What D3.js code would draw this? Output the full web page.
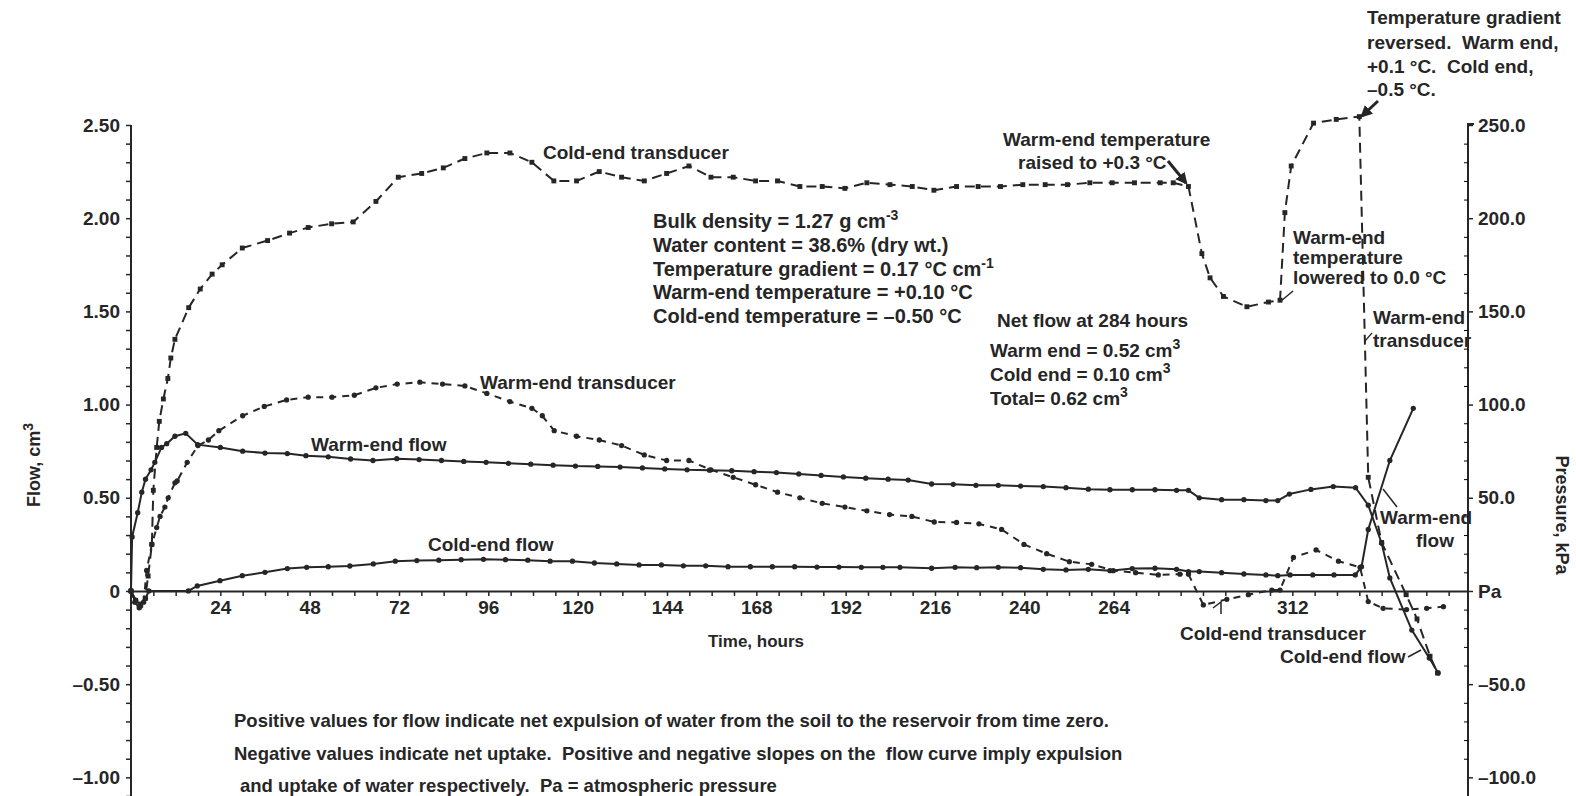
<!DOCTYPE html>
<html>
<head>
<meta charset="utf-8">
<script src="https://cdn.jsdelivr.net/npm/d3@7"></script>
<style>
  html, body { margin: 0; padding: 0; background: #fff; }
  svg { display: block; }
  text { font-family: "Liberation Sans", Arial, sans-serif; font-weight: bold; fill: #262626; white-space: pre; }
</style>
</head>
<body>
<div id="chart"></div>
<script>
// ---- data (hours, value) ----
// cold-end transducer, kPa (right axis)
const coldTransducerHours = [0, 1.2, 2.5, 3.8, 4.6, 5.6, 6.0, 6.9, 7.6, 8.7, 9.9, 10.7, 11.8, 15.5, 18.6, 21.8, 24.5, 29.9, 36.7, 42.6, 47.6, 53.9, 59.7, 65.8, 71.8, 78.1, 83.9, 89.7, 95.6, 101.8, 107.7, 113.6, 119.7, 125.8, 131.8, 137.9, 143.9, 149.9, 155.8, 161.8, 167.8, 173.7, 179.7, 185.7, 191.8, 197.7, 203.9, 209.9, 215.7, 221.8, 227.6, 233.6, 239.6, 245.6, 251.6, 257.6, 263.6, 269.6, 276.5, 280.0, 284.1, 287.7, 289.9, 293.5, 299.8, 305.6, 308.7, 310.0, 311.7, 317.7, 323.8, 330.0, 332.4, 336.0, 342.6, 345.5, 349.0, 351.0];
const coldTransducerKPa = [0, -5, -7, -4, 8, 25, 54, 77, 91, 103, 114, 125, 135, 152, 162, 170, 175, 184, 188, 192, 195, 197, 198, 209, 222, 224, 227, 232, 235, 235, 230, 220, 220, 225, 222, 220, 224, 228, 222, 222, 220, 220, 217, 217, 216, 219, 218, 217, 215, 217, 217, 217, 218, 218, 218, 219, 219, 219, 219, 219, 217, 181, 168, 158, 152.5, 155, 156, 203, 228, 251, 253, 254.5, 61, 26, -2, -15, -35, -44];

// warm-end transducer, kPa (right axis)
const warmTransducerHours = [0, 1.0, 2.2, 3.4, 4.2, 5.6, 6.9, 7.8, 9.1, 10.0, 11.8, 12.4, 15.1, 18.0, 20.8, 23.6, 30.0, 35.8, 41.8, 47.6, 54.0, 60.0, 65.8, 71.5, 77.6, 83.7, 89.7, 95.6, 101.8, 107.7, 110.5, 113.7, 119.7, 125.8, 131.8, 137.9, 143.9, 149.9, 155.8, 161.8, 167.8, 173.7, 179.7, 185.7, 191.8, 197.7, 203.8, 209.8, 215.8, 221.8, 227.8, 233.9, 239.9, 246.0, 252.1, 258.1, 263.9, 269.9, 276.0, 281.8, 284.1, 288.1, 294.4, 300.2, 306.5, 308.7, 312.3, 318.4, 324.4, 330.2, 332.4, 336.4, 342.7, 348.1, 352.6];
const warmTransducerKPa = [0, -6, -9, -6, 11, 25, 34, 40, 45, 50, 58, 59, 69, 78, 81, 86, 94, 99, 102.5, 104, 104, 105, 109, 111, 112, 111, 110, 106, 101.6, 98, 94, 86, 83, 81, 78, 73, 70, 70, 65, 61, 57, 53, 50, 47, 45, 43, 41, 40, 37, 36.8, 36, 33, 25, 20, 15.7, 14.3, 10.9, 9.8, 8.6, 9, 9, -7.5, -4.5, -2, 0.5, 0.5, 18, 22, 16, 12.7, -5.7, -9.3, -10, -9.3, -8.4];

// warm-end flow, cm3 (left axis)
const warmFlowHours = [0, 0.3, 1.8, 2.9, 3.9, 5.4, 6.4, 8.2, 9.6, 11.8, 14.7, 17.9, 24, 30, 36, 42, 47, 53, 59, 65, 71.4, 77.4, 83.4, 89.4, 95.4, 101.4, 107.4, 113.4, 119.4, 125.4, 131.4, 137.4, 143.4, 149.4, 155.4, 161.4, 167.4, 173.4, 179.4, 185.4, 191.4, 197.4, 203.4, 208.8, 215.1, 220.9, 227.0, 233.0, 239.0, 245.1, 251.2, 257.2, 263.0, 269.0, 275.1, 280.9, 284.1, 287.0, 293.0, 299.0, 304.9, 308.1, 311.2, 317.0, 323.0, 329.0, 332.4, 336.0, 338.2, 344.1, 348.8, 351.2];
const warmFlowCm3 = [0, 0.29, 0.42, 0.53, 0.60, 0.65, 0.69, 0.77, 0.79, 0.83, 0.846, 0.785, 0.77, 0.75, 0.74, 0.737, 0.726, 0.72, 0.708, 0.70, 0.71, 0.705, 0.70, 0.695, 0.69, 0.685, 0.68, 0.675, 0.67, 0.668, 0.665, 0.66, 0.655, 0.65, 0.648, 0.645, 0.64, 0.635, 0.628, 0.62, 0.612, 0.605, 0.60, 0.595, 0.574, 0.572, 0.567, 0.567, 0.563, 0.56, 0.554, 0.546, 0.543, 0.543, 0.543, 0.54, 0.54, 0.50, 0.49, 0.49, 0.485, 0.485, 0.52, 0.545, 0.56, 0.554, 0.46, 0.256, 0.07, -0.21, -0.36, -0.44];

// cold-end flow, cm3 (left axis)
const coldFlowHours = [0, 1.3, 2.6, 3.9, 4.8, 15.4, 17.8, 23.9, 29.9, 36, 42, 47.2, 53, 58.8, 65.1, 71, 76.8, 82.7, 88.7, 94.7, 100.6, 106.6, 112.6, 118.6, 124.5, 130.5, 136.5, 142.5, 148.4, 154.4, 160.4, 166.4, 172.3, 178.3, 184.3, 190.2, 196.2, 202.0, 206.6, 215.1, 221.4, 227.2, 233.0, 239.0, 245.1, 251.2, 257.2, 263.0, 269.0, 275.1, 280.9, 284.1, 287.0, 293.0, 299.0, 304.9, 308.1, 311.4, 317.5, 323.2, 328.9, 330.6, 332.4, 338.2, 344.5];
const coldFlowCm3 = [0, -0.05, -0.08, -0.04, 0, 0, 0.027, 0.055, 0.082, 0.10, 0.12, 0.127, 0.13, 0.134, 0.145, 0.16, 0.163, 0.165, 0.168, 0.17, 0.168, 0.165, 0.16, 0.16, 0.15, 0.145, 0.14, 0.14, 0.135, 0.135, 0.13, 0.13, 0.13, 0.13, 0.128, 0.128, 0.127, 0.127, 0.127, 0.122, 0.127, 0.125, 0.127, 0.125, 0.116, 0.113, 0.116, 0.109, 0.12, 0.122, 0.116, 0.104, 0.104, 0.098, 0.091, 0.086, 0.082, 0.086, 0.086, 0.086, 0.086, 0.13, 0.33, 0.70, 0.98];

// axis ticks and labels
const flowMajorTicks = [2.5, 2, 1.5, 1, 0.5, 0, -0.5, -1];
const pressureMajorTicks = [250, 200, 150, 100, 50, 0, -50, -100];
const hourLabels = [24, 48, 72, 96, 120, 144, 168, 192, 216, 240, 264, 312];

(function () {
  const width = 1576;
  const height = 796;
  const INK = "#262626";

  const svg = d3.select("#chart").append("svg")
    .attr("width", width)
    .attr("height", height)
    .style("background", "#fff");

  const defs = svg.append("defs");
  defs.append("marker")
    .attr("id", "arrow")
    .attr("viewBox", "0 0 10 10")
    .attr("refX", 8).attr("refY", 5)
    .attr("markerWidth", 4).attr("markerHeight", 4)
    .attr("orient", "auto")
    .append("path").attr("d", "M0,0L10,5L0,10z").attr("fill", INK);

  // scales: left flow axis and right pressure axis share the same pixel range
  const x = d3.scaleLinear().domain([0, 359.2]).range([131, 1468]);
  const yFlow = d3.scaleLinear().domain([-1.1, 2.5]).range([796, 125]);
  const yKPa = d3.scaleLinear().domain([-110, 250]).range([796, 125]);

  const minus = v => (v < 0 ? "\u2013" : "");

  // left axis
  const flowMinor = d3.range(-11, 26).map(i => i / 10);
  const leftAxis = svg.append("g")
    .attr("transform", `translate(${x(0)},0)`)
    .call(d3.axisLeft(yFlow)
      .tickValues(flowMinor)
      .tickSize(5)
      .tickSizeOuter(0)
      .tickPadding(6)
      .tickFormat(v => {
        const major = flowMajorTicks.some(m => Math.abs(m - v) < 1e-6);
        if (!major) return "";
        return v === 0 ? "0" : minus(v) + Math.abs(v).toFixed(2);
      }));

  // right axis: major ticks outward with labels, minor ticks inward
  const rightX = x.range()[1];
  const rightAxis = svg.append("g")
    .attr("transform", `translate(${rightX},0)`)
    .call(d3.axisRight(yKPa)
      .tickValues(pressureMajorTicks)
      .tickSize(5)
      .tickSizeOuter(0)
      .tickPadding(5)
      .tickFormat(v => v === 0 ? "Pa" : minus(v) + Math.abs(v).toFixed(1)));
  svg.append("g")
    .attr("transform", `translate(${rightX},0)`)
    .call(d3.axisLeft(yKPa)
      .tickValues(d3.range(-100, 251, 10).filter(v => v % 50 !== 0))
      .tickSize(4)
      .tickSizeOuter(0)
      .tickFormat(""))
    .call(g => g.select(".domain").remove());

  // time axis
  const bottomAxis = svg.append("g")
    .attr("transform", `translate(0,${yFlow(0)})`)
    .call(d3.axisBottom(x)
      .tickValues(d3.range(6, 359, 6))
      .tickSize(5)
      .tickSizeOuter(0)
      .tickPadding(5)
      .tickFormat(v => hourLabels.includes(v) ? v : ""));

  [leftAxis, rightAxis, bottomAxis].forEach(a => {
    a.select(".domain").attr("stroke", INK).attr("stroke-width", 2);
    a.selectAll(".tick line").attr("stroke", INK).attr("stroke-width", 1.5);
    a.selectAll(".tick text")
      .attr("fill", INK)
      .style("font-family", "'Liberation Sans', Arial, sans-serif")
      .style("font-weight", "bold")
      .style("font-size", "19px");
  });
  leftAxis.select(".domain").attr("d", `M0,${yFlow(2.5)}V${height}`);
  rightAxis.select(".domain").attr("d", `M6,${yKPa(250) - 1}H0V${height}`);

  // series
  const plot = svg.append("g");

  function drawSeries(hours, values, y, dash, shape) {
    const pts = hours.map((h, i) => [h, values[i]]);
    plot.append("path")
      .datum(pts)
      .attr("fill", "none")
      .attr("stroke", INK)
      .attr("stroke-width", 2)
      .attr("stroke-dasharray", dash)
      .attr("d", d3.line().x(d => x(d[0])).y(d => y(d[1])));

    plot.append("g").selectAll("path")
      .data(pts)
      .join("path")
      .attr("transform", d => `translate(${x(d[0])},${y(d[1])})`)
      .attr("d", d3.symbol(shape, shape === d3.symbolSquare ? 24 : 22))
      .attr("fill", INK);
  }

  drawSeries(coldTransducerHours, coldTransducerKPa, yKPa, "10,6", d3.symbolSquare);
  drawSeries(warmTransducerHours, warmTransducerKPa, yKPa, "7,6", d3.symbolCircle);
  drawSeries(warmFlowHours, warmFlowCm3, yFlow, null, d3.symbolCircle);
  drawSeries(coldFlowHours, coldFlowCm3, yFlow, null, d3.symbolCircle);

  // text helpers
  function label(px, py, str, size, anchor) {
    return svg.append("text")
      .attr("x", px).attr("y", py)
      .attr("text-anchor", anchor || "start")
      .style("font-size", (size || 19) + "px")
      .text(str);
  }
  function labelSup(px, py, str, sup, size) {
    const t = svg.append("text")
      .attr("x", px).attr("y", py)
      .style("font-size", (size || 19) + "px");
    t.append("tspan").text(str);
    t.append("tspan").attr("dy", -8).style("font-size", "14px").text(sup);
    return t;
  }
  function leader(points, arrow, w) {
    svg.append("path")
      .attr("d", d3.line()(points))
      .attr("fill", "none")
      .attr("stroke", INK)
      .attr("stroke-width", w || 1.5)
      .attr("marker-end", arrow ? "url(#arrow)" : null);
  }

  // series labels
  label(543, 159, "Cold-end transducer");
  label(480, 389, "Warm-end transducer");
  label(311, 451, "Warm-end flow");
  label(428, 551, "Cold-end flow");
  label(1180, 640, "Cold-end transducer");
  label(1280, 663, "Cold-end flow");
  leader([[1408, 657], [1421, 650]]);
  leader([[1213, 608], [1221, 602], [1221, 614]]);
  label(1380, 524, "Warm-end");
  label(1435, 547, "flow", 19, "middle");
  leader([[1397, 507], [1383, 489]]);
  label(1373, 324, "Warm-end");
  label(1373, 347, "transducer");
  leader([[1372, 333], [1365, 341]], false, 1.2);

  // conditions block
  labelSup(653, 228, "Bulk density = 1.27 g cm", "-3", 20);
  label(653, 252, "Water content = 38.6% (dry wt.)", 20);
  labelSup(653, 276, "Temperature gradient = 0.17 \u00b0C cm", "-1", 20);
  label(653, 299, "Warm-end temperature = +0.10 \u00b0C", 20);
  label(653, 323, "Cold-end temperature = \u20130.50 \u00b0C", 20);

  // net flow block
  label(997, 327, "Net flow at 284 hours");
  labelSup(990, 357, "Warm end = 0.52 cm", "3");
  labelSup(990, 381, "Cold end = 0.10 cm", "3");
  labelSup(990, 405, "Total= 0.62 cm", "3");

  // event annotations
  label(1003, 146, "Warm-end temperature");
  label(1018, 169, "raised to +0.3 \u00b0C");
  leader([[1168, 161], [1186, 183]], true, 3);

  label(1293, 244, "Warm-end");
  label(1293, 264, "temperature");
  label(1293, 284, "lowered to 0.0 \u00b0C");
  leader([[1293, 291], [1281, 301]]);

  label(1367, 24, "Temperature gradient");
  label(1367, 49, "reversed.  Warm end,");
  label(1367, 73, "+0.1 \u00b0C.  Cold end,");
  label(1367, 96, "\u20130.5 \u00b0C.");
  leader([[1378, 101], [1362, 116]], true, 3);

  // axis titles
  label(756, 647, "Time, hours", 17, "middle");
  const flowTitle = svg.append("text")
    .attr("transform", "translate(40,465) rotate(-90)")
    .attr("text-anchor", "middle")
    .style("font-size", "18px");
  flowTitle.append("tspan").text("Flow, cm");
  flowTitle.append("tspan").attr("dy", -7).style("font-size", "14px").text("3");
  svg.append("text")
    .attr("transform", "translate(1556,515) rotate(90)")
    .attr("text-anchor", "middle")
    .style("font-size", "18px")
    .text("Pressure, kPa");

  // footnote
  label(234, 727, "Positive values for flow indicate net expulsion of water from the soil to the reservoir from time zero.", 18.5);
  label(234, 760, "Negative values indicate net uptake.  Positive and negative slopes on the  flow curve imply expulsion", 18.5);
  label(240, 792, "and uptake of water respectively.  Pa = atmospheric pressure", 18.5);
})();
</script>
</body>
</html>
